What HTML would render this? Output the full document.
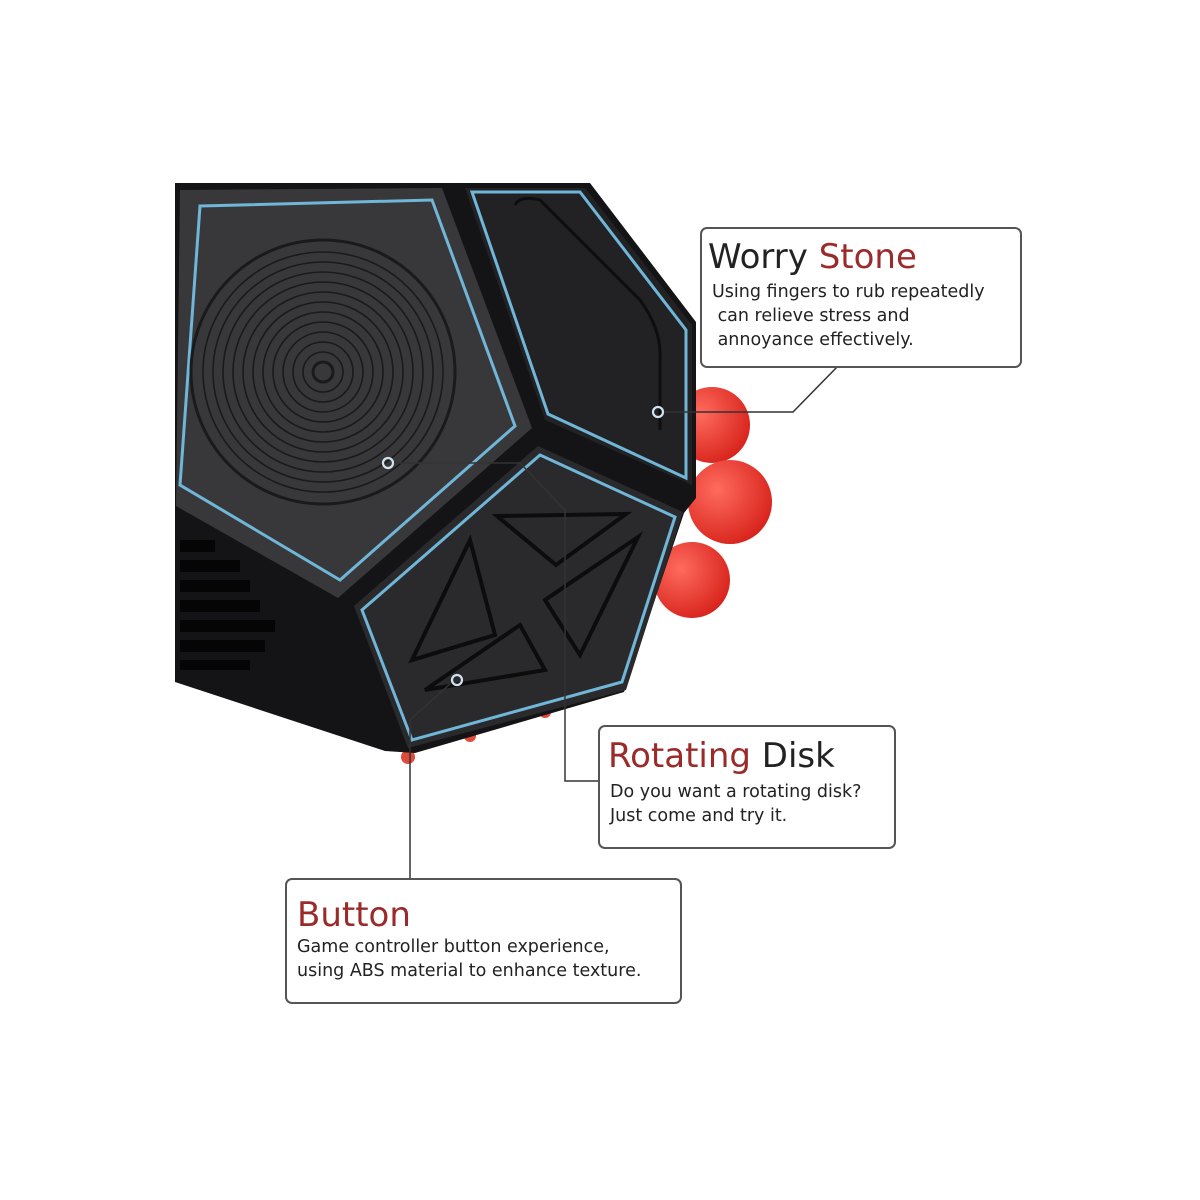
<!DOCTYPE html>
<html><head><meta charset="utf-8"><style>
html,body{margin:0;padding:0;background:#fff;}
.box{position:absolute;border:2px solid #555;border-radius:7px;background:#fff;font-family:"DejaVu Sans","Liberation Sans",sans-serif;color:#222;}
.t{font-size:34px;line-height:40px;}
.r{color:#9b2a2a;}
.d{font-size:17.5px;line-height:24px;color:#222;}
</style></head><body>
<div style="position:relative;width:1200px;height:1200px;overflow:hidden;">
<svg width="1200" height="1200" style="position:absolute;left:0;top:0">
<defs>
<radialGradient id="rb" cx="35%" cy="35%" r="70%"><stop offset="0" stop-color="#ff6b5e"/><stop offset="1" stop-color="#d8241c"/></radialGradient>
</defs>
<circle cx="712" cy="425" r="38" fill="url(#rb)"/>
<circle cx="692" cy="580" r="38" fill="url(#rb)"/>
<circle cx="730" cy="502" r="42" fill="url(#rb)"/>
<circle cx="408" cy="757" r="7" fill="#e04a3a"/>
<circle cx="470" cy="736" r="6" fill="#e04a3a"/>
<circle cx="545" cy="712" r="6" fill="#e04a3a"/>
<polygon points="175,183 590,183 696,322 696,498 684,513 624,692 415,753 385,751 175,682" fill="#141416"/>
<polygon points="180,190 442,188 532,428 338,598 176,506" fill="#38383b"/>
<polygon points="200,206 432,200 515,426 340,580 180,485" fill="none" stroke="#6fb6d8" stroke-width="3"/>
<g fill="none" stroke="#1a1a1a" stroke-width="1.6">
<circle cx="323" cy="372" r="132" stroke-width="3"/>
<circle cx="323" cy="372" r="120"/><circle cx="323" cy="372" r="110"/><circle cx="323" cy="372" r="100"/>
<circle cx="323" cy="372" r="90"/><circle cx="323" cy="372" r="80"/><circle cx="323" cy="372" r="70"/>
<circle cx="323" cy="372" r="60"/><circle cx="323" cy="372" r="50"/><circle cx="323" cy="372" r="40"/>
<circle cx="323" cy="372" r="30"/><circle cx="323" cy="372" r="20"/><circle cx="323" cy="372" r="10" stroke-width="3"/>
</g>
<polygon points="465,188 585,188 692,325 692,485 545,420" fill="#222225"/>
<polygon points="472,192 580,192 686,330 686,478 548,414" fill="none" stroke="#6fb6d8" stroke-width="3"/>
<path d="M515,205 Q520,195 540,200 L640,300 Q662,330 660,360 L660,430" fill="none" stroke="#0e0e0e" stroke-width="3"/>
<polygon points="538,446 683,512 626,690 408,748 354,606" fill="#2a2a2d"/>
<polygon points="540,455 675,517 622,682 412,740 362,610" fill="none" stroke="#6fb6d8" stroke-width="3"/>
<g fill="none" stroke="#0c0c0c" stroke-width="4" stroke-linecap="round">
<path d="M497,516 L626,514 L556,565 Z"/>
<path d="M470,540 L412,660 L495,635 Z"/>
<path d="M638,537 L545,600 L580,655 Z"/>
<path d="M520,625 L425,690 L545,670 Z"/>
</g>
<g fill="#050505">
<rect x="180" y="540" width="35" height="12"/><rect x="180" y="560" width="60" height="12"/><rect x="180" y="580" width="70" height="12"/>
<rect x="180" y="600" width="80" height="12"/><rect x="180" y="620" width="95" height="12"/><rect x="180" y="640" width="85" height="12"/>
<rect x="180" y="660" width="70" height="10"/>
</g>
<g fill="none" stroke="#333" stroke-width="1.5">
<polyline points="664,412 793,412 838,366"/>
<polyline points="394,463 520,463 565,510 565,781 598,781"/>
<polyline points="450,684 410,720 410,880"/>
</g>
<g fill="none" stroke="#cfe4ee" stroke-width="2.2">
<circle cx="658" cy="412" r="5"/><circle cx="388" cy="463" r="5"/><circle cx="457" cy="680" r="5"/>
</g>
</svg>
<div class="box" style="left:700px;top:227px;width:318px;height:137px;">
<div class="t" style="margin:8px 0 0 6px;">Worry <span class="r">Stone</span></div>
<div class="d" style="margin:3px 0 0 10px;">Using fingers to rub repeatedly<br>&nbsp;can relieve stress and<br>&nbsp;annoyance effectively.</div>
</div>
<div class="box" style="left:598px;top:725px;width:294px;height:120px;">
<div class="t" style="margin:9px 0 0 8px;"><span class="r">Rotating</span> Disk</div>
<div class="d" style="margin:4px 0 0 10px;">Do you want a rotating disk?<br>Just come and try it.</div>
</div>
<div class="box" style="left:285px;top:878px;width:393px;height:122px;">
<div class="t" style="margin:15px 0 0 10px;"><span class="r">Button</span></div>
<div class="d" style="margin:0 0 0 10px;">Game controller button experience,<br>using ABS material to enhance texture.</div>
</div>
</div>
</body></html>
